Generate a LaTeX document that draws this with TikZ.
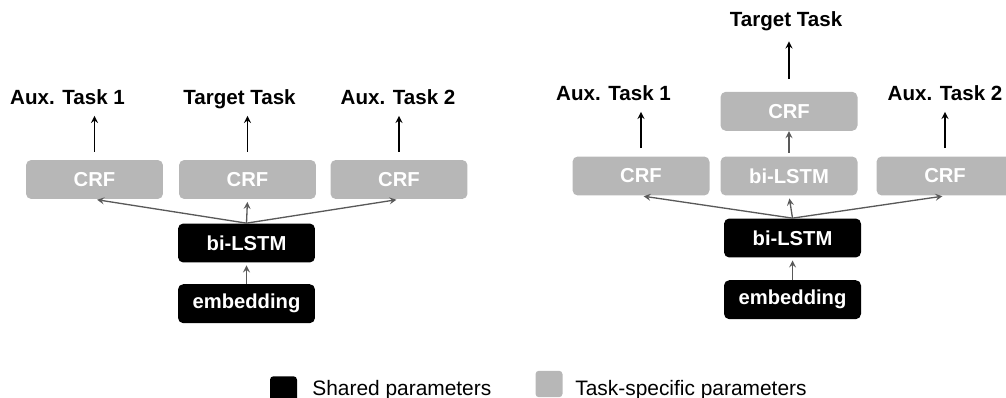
\documentclass[tikz,border=0pt]{standalone}
\usepackage{fontspec}
\setmainfont{Liberation Sans}
\usetikzlibrary{arrows,positioning}
\definecolor{taskgray}{HTML}{B7B7B7}
\definecolor{linegray}{HTML}{595959}
\tikzset{
  box/.style={rounded corners=3pt, minimum width=2.74cm, minimum height=0.78cm, inner sep=0pt,
    text=white, font=\fontsize{11.5}{13}\selectfont\bfseries},
  shared/.style={box, fill=black},
  task/.style={box, fill=taskgray},
  key/.style={rounded corners=2pt, minimum width=0.54cm, minimum height=0.53cm, inner sep=0pt},
  keytext/.style={anchor=base west, inner sep=0pt, font=\fontsize{11.9}{14}\selectfont},
  lbl/.style={inner sep=0pt, text depth=0pt, font=\fontsize{11.7}{14}\selectfont\bfseries},
  outarrow/.style={-stealth, line width=0.8pt, shorten <=4.5pt, shorten >=6pt},
  inarrow/.style={-stealth, linegray, line width=0.75pt, shorten >=1.5pt},
}
\begin{document}
\begin{tikzpicture}[x=0.02cm,y=-0.02cm]
\useasboundingbox (0,0) rectangle (1006,398);

% left: all tasks on top of one shared bi-LSTM
\node[task] (lcrfa) at (94.5,179.5) {CRF};
\node[task] (lcrfb) at (247.5,179.5) {CRF};
\node[task] (lcrfc) at (399,179.5) {CRF};
\node[shared] (llstm) at (246.5,243) {bi-LSTM};
\node[shared, below=0.42cm of llstm] (lemb) {embedding};
\node[lbl, anchor=base] (lauxa) at (67.5,105) {Aux. Task 1};
\node[lbl, anchor=base] (ltgt) at (239.5,105) {Target Task};
\node[lbl, anchor=base] (lauxb) at (398,105) {Aux. Task 2};

\path[inarrow] (lemb) edge (llstm);
\path[inarrow] (llstm.north) edge (lcrfa.south);
\path[inarrow] (llstm.north) edge (lcrfb.south);
\path[inarrow] (llstm.north) edge (lcrfc.south);
\draw[outarrow] (lcrfa.north) -- (lcrfa.north |- lauxa.south);
\draw[outarrow] (lcrfb.north) -- (lcrfb.north |- ltgt.south);
\draw[outarrow] (lcrfc.north) -- (lcrfc.north |- lauxb.south);

% right: target task gets an extra bi-LSTM
\node[task] (rcrfa) at (641,176) {CRF};
\node[task] (rlstmt) at (789,176) {bi-LSTM};
\node[task] (rcrfc) at (945,176) {CRF};
\node[task, above=0.5cm of rlstmt] (rcrft) {CRF};
\node[shared] (rlstm) at (792.5,238) {bi-LSTM};
\node[shared, below=0.44cm of rlstm] (remb) {embedding};
\node[lbl, anchor=base] (rauxa) at (613.5,101) {Aux. Task 1};
\node[lbl, anchor=base] (rtgt) at (786,27) {Target Task};
\node[lbl, anchor=base] (rauxb) at (945,101) {Aux. Task 2};

\path[inarrow] (remb) edge (rlstm);
\path[inarrow] (rlstm.north) edge (rcrfa.south);
\path[inarrow] (rlstm.north) edge (rlstmt.south);
\path[inarrow] (rlstm.north) edge (rcrfc.south);
\path[inarrow, shorten <=2pt, shorten >=0pt] (rlstmt) edge (rcrft);
\draw[outarrow] (rcrfa.north) -- (rcrfa.north |- rauxa.south);
\draw[outarrow, shorten <=7pt, shorten >=8pt] (rcrft.north) -- (rcrft.north |- rtgt.south);
\draw[outarrow] (rcrfc.north) -- (rcrfc.north |- rauxb.south);

% legend
\node[key, fill=black] (kshared) at (283.5,389.5) {};
\node[keytext] (tshared) at (312,395) {Shared parameters};
\node[key, fill=taskgray] (ktask) at (549,384) {};
\node[keytext] (ttask) at (575,395) {Task-specific parameters};
\end{tikzpicture}
\end{document}
